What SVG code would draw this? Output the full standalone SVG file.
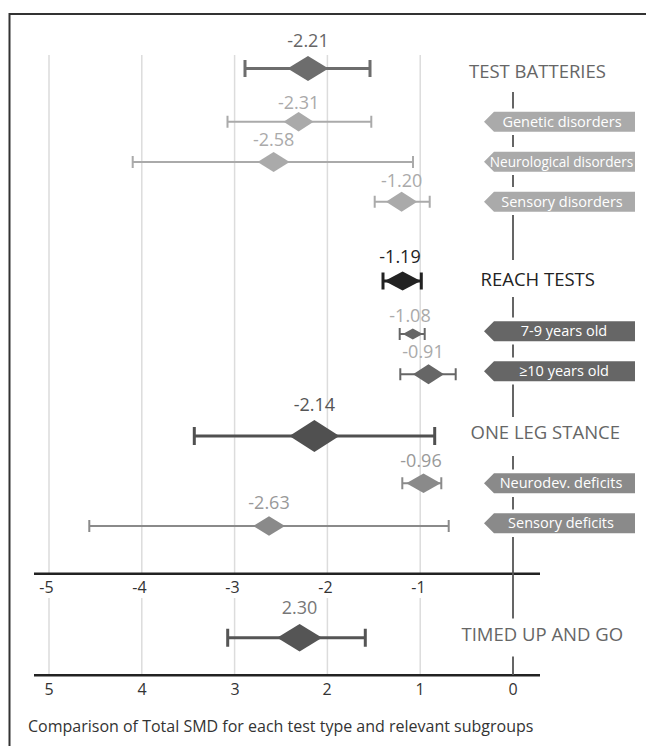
<svg xmlns="http://www.w3.org/2000/svg" width="646" height="746" viewBox="0 0 646 746">
<style>
text{font-family:"Open Sans","Noto Sans","Liberation Sans",sans-serif}
.grid{stroke:#dcdcdc;stroke-width:1.5}
.axis{stroke:#222;stroke-width:2.5}
.zero{stroke:#555;stroke-width:1.8}
.tick{font-size:16px;fill:#333;text-anchor:middle}
.val{font-size:18px;text-anchor:middle}
.title{font-size:18.5px}
.box{font-size:14.5px;text-anchor:middle;fill:#fff}
.box.narrow{font-size:13.6px}
.maj{stroke-width:3;fill:none}
.min{stroke-width:2;fill:none}
</style>
<rect width="646" height="746" fill="#fff"/>
<path d="M9.5 746V14H646" fill="none" stroke="#333" stroke-width="2"/>
<g id="grid">
<path class="grid" d="M49 55V573M141.8 55V573M234.6 55V573M327.4 55V573M420.2 55V573"/>
<path class="grid" d="M49 598V675M141.8 598V675M234.6 598V675M327.4 598V675M420.2 598V675"/>
<path class="axis" d="M34 573.7H540M34 675.3H540"/>
<g class="tick">
<text x="46.5" y="592.5">-5</text><text x="139.5" y="592.5">-4</text><text x="232.5" y="592.5">-3</text><text x="325.5" y="592.5">-2</text><text x="418.5" y="592.5">-1</text>
<text x="49" y="694.5">5</text><text x="142" y="694.5">4</text><text x="235" y="694.5">3</text><text x="327" y="694.5">2</text><text x="420" y="694.5">1</text><text x="513" y="694.5">0</text>
</g>
</g>
<g id="connectors">
<path class="zero" d="M513 92V108.5M513 135V147M513 175V187M513 215V260M513 297V317.5M513 344.5V357.5M513 384.5V417M513 456V469.5M513 497V509.5M513 537V618.5M513 656.5V675"/>
</g>
<g id="test-batteries">
<text class="val" x="308" y="47" fill="#666">-2.21</text>
<path class="maj" stroke="#6d6d6d" d="M245 68.5H370M245 60V77M370 60V77"/>
<polygon fill="#6d6d6d" points="287.5,68.5 308,56 328.5,68.5 308,81"/>
<text class="title" x="469" y="78" fill="#666">TEST BATTERIES</text>
</g>
<g id="genetic-disorders">
<text class="val" x="298.6" y="108.5" fill="#aaa">-2.31</text>
<path class="min" stroke="#aaa" d="M227.5 121.7H371.3M227.5 115.7V127.7M371.3 115.7V127.7"/>
<polygon fill="#aaa" points="283.6,121.7 298.6,112 313.6,121.7 298.6,131.4"/>
<polygon fill="#aaa" points="484,121.7 494,111.7 635,111.7 635,131.7 494,131.7"/>
<text class="box" x="562" y="126.8" fill="#f4f4f4">Genetic disorders</text>
</g>
<g id="neurological-disorders">
<text class="val" x="273.6" y="146" fill="#aaa">-2.58</text>
<path class="min" stroke="#aaa" d="M132.7 162H413M132.7 156V168M413 156V168"/>
<polygon fill="#aaa" points="257.6,162 273.6,152 289.6,162 273.6,172"/>
<polygon fill="#aaa" points="484,161.7 494,151.7 635,151.7 635,171.7 494,171.7"/>
<text class="box narrow" x="561.5" y="166.6" fill="#f4f4f4">Neurological disorders</text>
</g>
<g id="sensory-disorders">
<text class="val" x="401.6" y="186.7" fill="#aaa">-1.20</text>
<path class="min" stroke="#aaa" d="M374.7 201.7H429.7M374.7 195.7V207.7M429.7 195.7V207.7"/>
<polygon fill="#aaa" points="386,201.7 401.6,191.7 417.2,201.7 401.6,211.7"/>
<polygon fill="#aaa" points="484,201.7 494,191.7 635,191.7 635,211.7 494,211.7"/>
<text class="box" x="562" y="206.8" fill="#f4f4f4">Sensory disorders</text>
</g>
<g id="reach-tests">
<text class="val" x="400" y="263.3" fill="#222">-1.19</text>
<path class="maj" stroke="#222" d="M383 281H421.3M383 272.5V289.5M421.3 272.5V289.5"/>
<polygon fill="#222" points="384.6,281 402.6,271.5 420.6,281 402.6,290.5"/>
<text class="title" x="480.5" y="286" fill="#222">REACH TESTS</text>
</g>
<g id="age-7-9">
<text class="val" x="410" y="321.7" fill="#aaa">-1.08</text>
<path class="min" stroke="#666" d="M399.7 334H424.7M399.7 328V340M424.7 328V340"/>
<polygon fill="#666" points="402.8,334 412.8,328.5 422.8,334 412.8,339.5"/>
<polygon fill="#666" points="484,331.3 494,321.3 635,321.3 635,341.3 494,341.3"/>
<text class="box" x="564" y="336.4">7-9 years old</text>
</g>
<g id="age-10-plus">
<text class="val" x="423" y="358.3" fill="#aaa">-0.91</text>
<path class="min" stroke="#666" d="M400.3 374.3H455.7M400.3 368.3V380.3M455.7 368.3V380.3"/>
<polygon fill="#666" points="413,374.3 428.5,364.3 444,374.3 428.5,384.3"/>
<polygon fill="#666" points="484,371.3 494,361.3 635,361.3 635,381.3 494,381.3"/>
<text class="box" x="564" y="376.4">≥10 years old</text>
</g>
<g id="one-leg-stance">
<text class="val" x="314.4" y="410.5" fill="#555">-2.14</text>
<path class="maj" stroke="#505050" d="M194.3 436H434.7M194.3 427V445M434.7 427V445"/>
<polygon fill="#505050" points="289.4,436 314.4,420 339.4,436 314.4,452"/>
<text class="title" x="470.5" y="439" fill="#666">ONE LEG STANCE</text>
</g>
<g id="neurodev-deficits">
<text class="val" x="421" y="466.7" fill="#999">-0.96</text>
<path class="min" stroke="#8a8a8a" d="M402.3 483.3H441.3M402.3 477.3V489.3M441.3 477.3V489.3"/>
<polygon fill="#8a8a8a" points="406.3,483.3 423.5,473.6 440.7,483.3 423.5,493"/>
<polygon fill="#8a8a8a" points="484,483.3 494,473.3 635,473.3 635,493.3 494,493.3"/>
<text class="box" x="561" y="488.4">Neurodev. deficits</text>
</g>
<g id="sensory-deficits">
<text class="val" x="269" y="509" fill="#999">-2.63</text>
<path class="min" stroke="#8a8a8a" d="M89.3 526H448.7M89.3 520V532M448.7 520V532"/>
<polygon fill="#8a8a8a" points="253,526 269,516.3 285,526 269,535.7"/>
<polygon fill="#8a8a8a" points="484,523.3 494,513.3 635,513.3 635,533.3 494,533.3"/>
<text class="box" x="561" y="528.4">Sensory deficits</text>
</g>
<g id="timed-up-and-go">
<text class="val" x="299.6" y="614" fill="#777">2.30</text>
<path class="maj" stroke="#555" d="M227.7 637.7H365.3M227.7 628.7V646.7M365.3 628.7V646.7"/>
<polygon fill="#555" points="277.1,637.7 299.6,624 322.1,637.7 299.6,651.4"/>
<text class="title" x="461.5" y="641" fill="#666">TIMED UP AND GO</text>
</g>
<text x="28" y="732" font-size="16" fill="#333">Comparison of Total SMD for each test type and relevant subgroups</text>
</svg>
